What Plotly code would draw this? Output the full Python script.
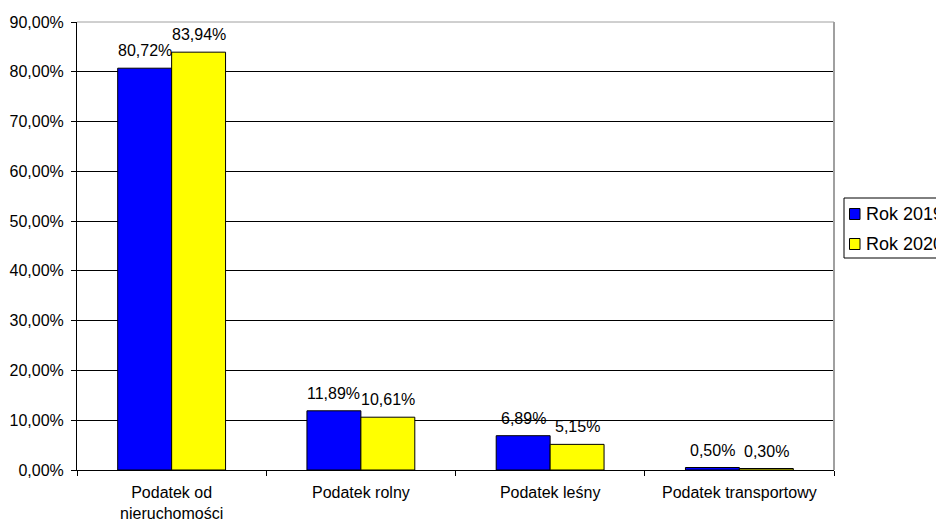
import plotly.graph_objects as go

categories = ["Podatek od<br>nieruchomości", "Podatek rolny", "Podatek leśny", "Podatek transportowy"]
series_names = ["Rok 2019", "Rok 2020"]
values_2019 = [80.72, 11.89, 6.89, 0.50]
values_2020 = [83.94, 10.61, 5.15, 0.30]
colors = ["#0000FF", "#FFFF00"]
y_ticks = [0, 10, 20, 30, 40, 50, 60, 70, 80, 90]

FONT = "Liberation Sans, Arial, sans-serif"
FS = 16
LEG_FS = 18

# figure geometry (page body adds an 8px offset)
W, H = 936, 519
ML, MR, MT, MB = 69, 110, 14, 57
PW, PH = W - ML - MR, H - MT - MB
BARGAP = 0.43
CAT_W = PW / len(categories)
BAR_W = CAT_W * (1 - BARGAP) / 2


def px(x):
    return (x - ML) / PW


def py(y):
    return (H - MB - y) / PH


def fmt(v):
    return f"{v:.2f}".replace(".", ",") + "%"


fig = go.Figure()
for name, vals, col in zip(series_names, [values_2019, values_2020], colors):
    fig.add_trace(go.Bar(
        x=categories, y=vals, name=name, showlegend=False,
        marker=dict(color=col, line=dict(color="black", width=1)),
    ))

# value labels, raised above the bars as in the original
for si, vals in enumerate([values_2019, values_2020]):
    shift = (si - 0.5) * BAR_W
    for cat, v in zip(categories, vals):
        fig.add_annotation(xref="x", yref="y", x=cat, y=v, xshift=shift,
                           yshift=7, yanchor="bottom", xanchor="center",
                           showarrow=False, text=fmt(v),
                           font=dict(family=FONT, size=FS, color="black"))

fig.update_layout(
    width=W, height=H,
    margin=dict(l=ML, r=MR, t=MT, b=MB, autoexpand=False),
    paper_bgcolor="white", plot_bgcolor="white",
    barmode="group", bargap=BARGAP, bargroupgap=0,
    font=dict(family=FONT, size=FS, color="black"),
    showlegend=False,
)
fig.update_yaxes(
    range=[0, 90], tickvals=y_ticks,
    ticktext=[fmt(v) for v in y_ticks],
    showgrid=True, gridcolor="black", gridwidth=1,
    showline=True, linecolor="black", linewidth=1,
    ticks="outside", ticklen=5, tickcolor="black",
    zeroline=False, ticklabelstandoff=4,
    tickfont=dict(family=FONT, size=FS, color="black"),
)
fig.update_xaxes(
    showline=True, linecolor="black", linewidth=1,
    ticks="outside", ticklen=5, tickcolor="black", tickson="boundaries",
    showgrid=False, ticklabelstandoff=8,
    tickfont=dict(family=FONT, size=FS, color="black"),
)
# gray top and right border of the plot area
fig.add_shape(type="line", xref="paper", yref="paper", x0=0, x1=1, y0=1, y1=1,
              line=dict(color="#A0A0A0", width=1), layer="above")
fig.add_shape(type="line", xref="paper", yref="paper", x0=1, x1=1, y0=0, y1=1,
              line=dict(color="#A0A0A0", width=2), layer="above")

# legend box (manual, to match the original key layout)
fig.add_shape(type="rect", xref="paper", yref="paper",
              x0=px(836), x1=px(960), y0=py(250), y1=py(190),
              line=dict(color="black", width=1), fillcolor="white", layer="above")
for i, (name, col) in enumerate(zip(series_names, colors)):
    cy = 206 + 30 * i
    fig.add_shape(type="rect", xref="paper", yref="paper",
                  x0=px(841.5), x1=px(852), y0=py(cy + 5.5), y1=py(cy - 5.5),
                  line=dict(color="black", width=1), fillcolor=col, layer="above")
    fig.add_annotation(xref="paper", yref="paper", x=px(856), y=py(cy),
                       xanchor="left", yanchor="middle", showarrow=False,
                       text=name, font=dict(family=FONT, size=LEG_FS, color="black"))

fig.write_html("out.html")
